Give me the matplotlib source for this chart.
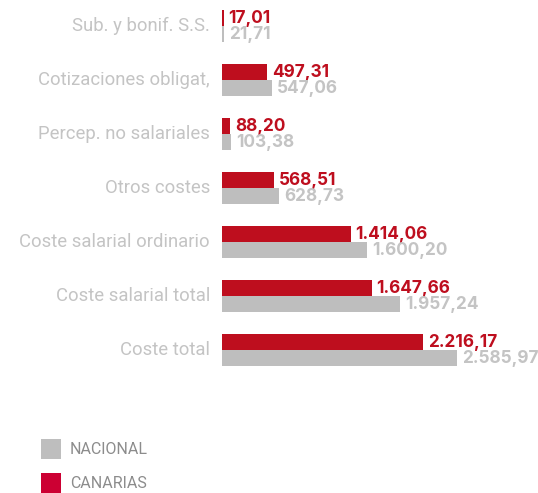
import matplotlib
matplotlib.use("Agg")
import matplotlib.pyplot as plt
import matplotlib.patches as patches

# datos
categorias = ["Sub. y bonif. S.S.", "Cotizaciones obligat,", "Percep. no salariales",
              "Otros costes", "Coste salarial ordinario", "Coste salarial total", "Coste total"]
canarias = [17.01, 497.31, 88.20, 568.51, 1414.06, 1647.66, 2216.17]
nacional = [21.71, 547.06, 103.38, 628.73, 1600.20, 1957.24, 2585.97]
series = ["NACIONAL", "CANARIAS"]

ROJO = "#be0e1e"
GRIS = "#bebebe"
GRIS_TXT = "#c4c4c4"
LEYENDA_ROJO = "#cc0033"


def fmt_es(v):
    s = f"{v:,.2f}"
    return s.replace(",", "X").replace(".", ",").replace("X", ".")


plt.rcParams['font.family'] = ['Roboto', 'DejaVu Sans']

W, H = 538, 493
X0 = 222  # px donde empiezan las barras
fig = plt.figure(figsize=(W / 100, H / 100), dpi=100)

# eje: filas cada 54 px empezando en 26 px
escala = 235 / 2585.97
ax = fig.add_axes([X0 / W, 0, 1 - X0 / W, 1])
ax.set_xlim(0, (W - X0) / escala)
ax.set_ylim((H - 26) / 54, -26 / 54)
ax.axis('off')

alto = 0.29
idx = list(range(len(categorias)))
ax.barh([i - alto / 2 for i in idx], canarias, height=alto, color=ROJO)
ax.barh([i + alto / 2 for i in idx], nacional, height=alto, color=GRIS)

for i in idx:
    ax.annotate(fmt_es(canarias[i]), (canarias[i], i - alto / 2), xytext=(3.5, 0),
                textcoords='offset points', ha='left', va='center',
                fontsize=12.4, fontweight='bold', color=ROJO,
                family=['Inter', 'DejaVu Sans'])
    ax.annotate(fmt_es(nacional[i]), (nacional[i], i + alto / 2), xytext=(3.5, -0.5),
                textcoords='offset points', ha='left', va='center',
                fontsize=12.4, fontweight='bold', color=GRIS_TXT,
                family=['Inter', 'DejaVu Sans'])
    ax.annotate(categorias[i], (0, i), xytext=(-8.6, 0),
                textcoords='offset points', ha='right', va='center',
                fontsize=13.3, color=GRIS_TXT)

# leyenda manual
for j, (nombre, col) in enumerate(zip(series, [GRIS, LEYENDA_ROJO])):
    y0 = 439 + j * 34
    fig.add_artist(patches.Rectangle((41 / W, 1 - (y0 + 20) / H), 20 / W, 20 / H,
                                     transform=fig.transFigure, facecolor=col,
                                     edgecolor='none'))
    fig.text(70 / W, 1 - (y0 + 10) / H, nombre, ha='left', va='center',
             fontsize=11.5, color="#8c8c8c")

fig.savefig("out.png", dpi=100)
